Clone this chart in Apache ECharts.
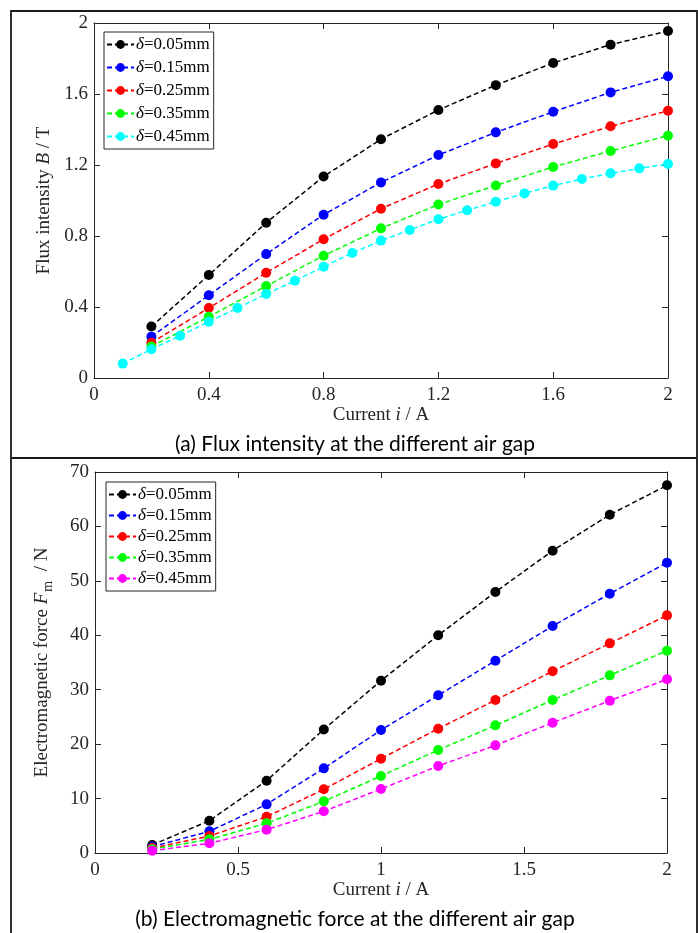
<!DOCTYPE html>
<html>
<head>
<meta charset="utf-8">
<script src="https://cdn.jsdelivr.net/npm/echarts@6/dist/echarts.min.js"></script>
<style>
  html, body { margin: 0; padding: 0; background: #fff; }
  #chart { width: 698px; height: 933px; }
</style>
</head>
<body>
<div id="chart"></div>
<script>
// Current steps (A)
const currentA = [0.2, 0.4, 0.6, 0.8, 1.0, 1.2, 1.4, 1.6, 1.8, 2.0];
const currentFine = [0.1, 0.2, 0.3, 0.4, 0.5, 0.6, 0.7, 0.8, 0.9, 1.0,
                     1.1, 1.2, 1.3, 1.4, 1.5, 1.6, 1.7, 1.8, 1.9, 2.0];

// Air gap labels
const gapLabels = ['0.05mm', '0.15mm', '0.25mm', '0.35mm', '0.45mm'];

// Flux intensity B (T)
const flux005 = [0.29, 0.58, 0.875, 1.135, 1.345, 1.51, 1.65, 1.775, 1.878, 1.955];
const flux015 = [0.233, 0.466, 0.698, 0.92, 1.102, 1.256, 1.384, 1.50, 1.609, 1.70];
const flux025 = [0.199, 0.394, 0.593, 0.782, 0.954, 1.093, 1.209, 1.318, 1.418, 1.506];
const flux035 = [0.177, 0.345, 0.518, 0.689, 0.843, 0.977, 1.085, 1.189, 1.279, 1.365];
const flux045 = [0.081, 0.162, 0.238, 0.317, 0.394, 0.473, 0.548, 0.627, 0.704, 0.774,
                 0.834, 0.894, 0.945, 0.993, 1.040, 1.084, 1.121, 1.153, 1.181, 1.206];

// Electromagnetic force Fm (N)
const force005 = [1.47, 5.94, 13.29, 22.7, 31.66, 40.0, 47.95, 55.54, 62.16, 67.55];
const force015 = [1.16, 3.98, 8.94, 15.55, 22.6, 28.97, 35.33, 41.7, 47.64, 53.34];
const force025 = [0.9, 3.12, 6.67, 11.7, 17.33, 22.84, 28.1, 33.38, 38.52, 43.66];
const force035 = [0.7, 2.51, 5.45, 9.49, 14.15, 18.92, 23.45, 28.1, 32.64, 37.17];
const force045 = [0.43, 1.78, 4.29, 7.66, 11.76, 15.98, 19.78, 23.94, 27.98, 31.91];

const fluxColors = ['#000000', '#0000ff', '#ff0000', '#00ff00', '#00ffff'];
const forceColors = ['#000000', '#0000ff', '#ff0000', '#00ff00', '#ff00ff'];

const SERIF = 'Liberation Serif';
const AXIS_COLOR = '#262626';

const pairs = (xs, ys) => xs.map((x, k) => [x, ys[k]]);

function makeSeries(name, xs, ys, color, axisIndex) {
  return {
    name: name,
    type: 'line',
    xAxisIndex: axisIndex,
    yAxisIndex: axisIndex,
    data: pairs(xs, ys),
    symbol: 'circle',
    symbolSize: 10,
    showSymbol: true,
    smooth: false,
    animation: false,
    itemStyle: { color: color },
    lineStyle: { color: color, width: 1.5, type: [5, 3] },
    emphasis: { disabled: true },
    z: 3
  };
}

function axisBase(min, max, interval) {
  return {
    type: 'value',
    min: min, max: max, interval: interval,
    splitLine: { show: false },
    axisLine: { show: true, onZero: false, lineStyle: { color: AXIS_COLOR, width: 1 } },
    axisTick: { show: true, inside: true, length: 6, lineStyle: { color: AXIS_COLOR } }
  };
}

function mainXAxis(gridIndex, min, max, interval, gap) {
  return Object.assign(axisBase(min, max, interval), {
    gridIndex: gridIndex,
    position: 'bottom',
    axisLabel: { color: AXIS_COLOR, fontFamily: SERIF, fontSize: 19, margin: 8 },
    name: '{r|Current }{i|i}{r| / A}',
    nameLocation: 'middle',
    nameGap: gap,
    nameTextStyle: {
      rich: {
        r: { fontFamily: SERIF, fontSize: 19, color: AXIS_COLOR },
        i: { fontFamily: SERIF, fontSize: 19, fontStyle: 'italic', color: AXIS_COLOR }
      }
    }
  });
}

function mirrorXAxis(gridIndex, min, max, interval) {
  return Object.assign(axisBase(min, max, interval), {
    gridIndex: gridIndex, position: 'top', axisLabel: { show: false }
  });
}

function mirrorYAxis(gridIndex, min, max, interval) {
  return Object.assign(axisBase(min, max, interval), {
    gridIndex: gridIndex, position: 'right', axisLabel: { show: false }
  });
}

const richLabel = {
  r: { fontFamily: SERIF, fontSize: 19, color: AXIS_COLOR },
  i: { fontFamily: SERIF, fontSize: 19, fontStyle: 'italic', color: AXIS_COLOR },
  s: { fontFamily: SERIF, fontSize: 14, color: AXIS_COLOR, padding: [12, 0, 0, 1] }
};

function legendFor(top, left, gap) {
  return {
    show: true,
    top: top, left: left,
    orient: 'vertical',
    itemWidth: 27, itemHeight: 11, itemGap: gap,
    padding: [4, 4, 4, 2],
    backgroundColor: '#fff',
    borderColor: '#262626', borderWidth: 1,
    borderRadius: 0,
    selectedMode: false,
    textStyle: {
      fontFamily: SERIF, fontSize: 17, color: '#000', padding: [0, 0, 0, -3],
      rich: {
        i: { fontFamily: SERIF, fontSize: 17, fontStyle: 'italic', color: '#000' },
        r: { fontFamily: SERIF, fontSize: 17, color: '#000' }
      }
    }
  };
}

const fluxSets = [flux005, flux015, flux025, flux035];
const forceSets = [force005, force015, force025, force035, force045];

const series = [];
fluxSets.forEach((ys, k) => series.push(makeSeries('δ=' + gapLabels[k], currentA, ys, fluxColors[k], 0)));
series.push(makeSeries('δ=' + gapLabels[4], currentFine, flux045, fluxColors[4], 0));
const forceSeries = forceSets.map((ys, k) => makeSeries('δ=' + gapLabels[k] + ' ', currentA, ys, forceColors[k], 1));

const topLegend = legendFor(32, 104, 6);
topLegend.data = series.map(s => s.name);
topLegend.formatter = name => '{i|δ}{r|=' + name.split('=')[1] + '}';

const bottomLegend = legendFor(482, 106, 4);
bottomLegend.data = forceSeries.map(s => s.name);
bottomLegend.formatter = name => '{i|δ}{r|=' + name.split('=')[1].trim() + '}';

const chart = echarts.init(document.getElementById('chart'), null, { renderer: 'canvas' });

chart.setOption({
  animation: false,
  backgroundColor: '#fff',
  grid: [
    { left: 94, top: 23, width: 574, height: 355, containLabel: false },
    { left: 95, top: 472, width: 572, height: 381, containLabel: false }
  ],
  legend: [topLegend, bottomLegend],
  xAxis: [
    mainXAxis(0, 0, 2, 0.4, 26),
    mainXAxis(1, 0, 2, 0.5, 25),
    mirrorXAxis(0, 0, 2, 0.4),
    mirrorXAxis(1, 0, 2, 0.5)
  ],
  yAxis: [
    Object.assign(axisBase(0, 2, 0.4), {
      gridIndex: 0, position: 'left',
      axisLabel: { color: AXIS_COLOR, fontFamily: SERIF, fontSize: 19, margin: 6 },
      name: '{r|Flux intensity }{i|B}{r| / T}',
      nameLocation: 'middle', nameGap: 38, nameRotate: 90,
      nameTextStyle: { rich: richLabel }
    }),
    Object.assign(axisBase(0, 70, 10), {
      gridIndex: 1, position: 'left',
      axisLabel: { color: AXIS_COLOR, fontFamily: SERIF, fontSize: 19, margin: 6 },
      name: '{r|Electromagnetic force }{i|F}{s|m}{r|  / N}',
      nameLocation: 'middle', nameGap: 40, nameRotate: 90,
      nameTextStyle: { rich: richLabel }
    }),
    mirrorYAxis(0, 0, 2, 0.4),
    mirrorYAxis(1, 0, 70, 10)
  ],
  series: series.concat(forceSeries),
  graphic: [
    {
      type: 'rect', silent: true, z: 100,
      shape: { x: 11, y: 11, width: 686, height: 940 },
      style: { fill: 'none', stroke: '#1a1a1a', lineWidth: 1.8 }
    },
    {
      type: 'line', silent: true, z: 100,
      shape: { x1: 11, y1: 458, x2: 697, y2: 458 },
      style: { stroke: '#1a1a1a', lineWidth: 1.8 }
    },
    {
      type: 'text', silent: true, z: 100,
      x: 355, y: 444,
      style: {
        text: '(a) Flux intensity at the different air gap',
        font: '21px Lato', fill: '#000',
        textAlign: 'center', textVerticalAlign: 'middle'
      }
    },
    {
      type: 'text', silent: true, z: 100,
      x: 355, y: 919,
      style: {
        text: '(b) Electromagnetic force at the different air gap',
        font: '21px Lato', fill: '#000',
        textAlign: 'center', textVerticalAlign: 'middle'
      }
    }
  ]
});
</script>
</body>
</html>
